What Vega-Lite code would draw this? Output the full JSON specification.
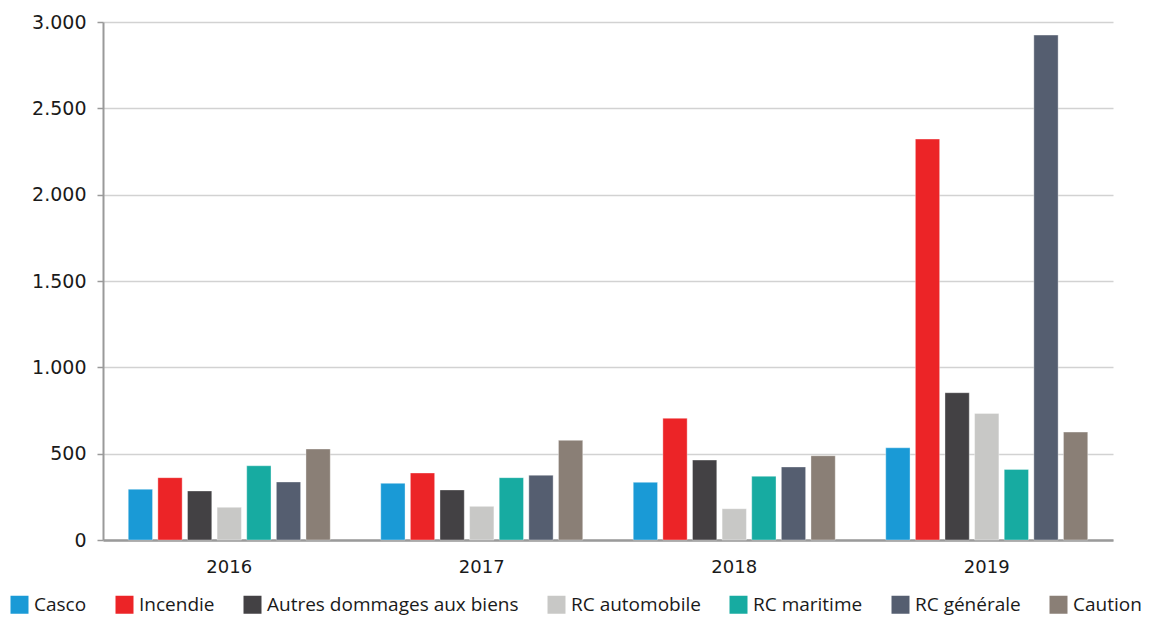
{
  "$schema": "https://vega.github.io/schema/vega-lite/v6.json",
  "width": 1010,
  "height": 518,
  "autosize": {"type": "none"},
  "padding": {"left": 103, "top": 22, "right": 39, "bottom": 77},
  "background": "white",
  "config": {
    "view": {"stroke": null},
    "locale": {"number": {"decimal": ",", "thousands": ".", "grouping": [3], "currency": ["", " €"]}},
    "font": "Open Sans"
  },
  "data": {
    "values": [
      {"year": "2016", "cat": "Casco", "value": 294},
      {"year": "2016", "cat": "Incendie", "value": 361},
      {"year": "2016", "cat": "Autres dommages aux biens", "value": 284},
      {"year": "2016", "cat": "RC automobile", "value": 189},
      {"year": "2016", "cat": "RC maritime", "value": 430},
      {"year": "2016", "cat": "RC générale", "value": 336},
      {"year": "2016", "cat": "Caution", "value": 527},
      {"year": "2017", "cat": "Casco", "value": 328},
      {"year": "2017", "cat": "Incendie", "value": 388},
      {"year": "2017", "cat": "Autres dommages aux biens", "value": 290},
      {"year": "2017", "cat": "RC automobile", "value": 195},
      {"year": "2017", "cat": "RC maritime", "value": 361},
      {"year": "2017", "cat": "RC générale", "value": 375},
      {"year": "2017", "cat": "Caution", "value": 577},
      {"year": "2018", "cat": "Casco", "value": 334},
      {"year": "2018", "cat": "Incendie", "value": 705},
      {"year": "2018", "cat": "Autres dommages aux biens", "value": 463},
      {"year": "2018", "cat": "RC automobile", "value": 181},
      {"year": "2018", "cat": "RC maritime", "value": 369},
      {"year": "2018", "cat": "RC générale", "value": 423},
      {"year": "2018", "cat": "Caution", "value": 488},
      {"year": "2019", "cat": "Casco", "value": 534},
      {"year": "2019", "cat": "Incendie", "value": 2322},
      {"year": "2019", "cat": "Autres dommages aux biens", "value": 853},
      {"year": "2019", "cat": "RC automobile", "value": 733},
      {"year": "2019", "cat": "RC maritime", "value": 409},
      {"year": "2019", "cat": "RC générale", "value": 2924},
      {"year": "2019", "cat": "Caution", "value": 625}
    ]
  },
  "mark": {"type": "bar", "stroke": "#ffffff", "strokeWidth": 0.6, "strokeOpacity": 0.6},
  "encoding": {
    "x": {
      "field": "year", "type": "nominal",
      "scale": {"paddingInner": 0.2, "paddingOuter": 0.1},
      "axis": {
        "title": null, "labelAngle": 0, "ticks": false, "labelPadding": 18,
        "labelFont": "DejaVu Sans", "labelFontSize": 18, "labelColor": "#1a1a1a",
        "domainColor": "#9a9a9a", "domainWidth": 2.5, "grid": false
      }
    },
    "xOffset": {
      "field": "cat", "type": "nominal",
      "sort": ["Casco", "Incendie", "Autres dommages aux biens", "RC automobile", "RC maritime", "RC générale", "Caution"],
      "scale": {"paddingInner": 0.18, "paddingOuter": 0}
    },
    "y": {
      "field": "value", "type": "quantitative",
      "scale": {"domain": [0, 3000], "nice": false},
      "axis": {
        "title": null, "values": [0, 500, 1000, 1500, 2000, 2500, 3000], "format": ",d",
        "labelFont": "DejaVu Sans", "labelFontSize": 19, "labelColor": "#1a1a1a", "labelPadding": 11,
        "tickSize": 6, "tickColor": "#9a9a9a", "tickWidth": 1.5,
        "domainColor": "#9a9a9a", "domainWidth": 2,
        "grid": true, "gridColor": "#d2d2d2", "gridWidth": 1.3
      }
    },
    "color": {
      "field": "cat", "type": "nominal",
      "scale": {
        "domain": ["Casco", "Incendie", "Autres dommages aux biens", "RC automobile", "RC maritime", "RC générale", "Caution"],
        "range": ["#1a9ad6", "#ec2427", "#434144", "#c8c8c6", "#17aba1", "#555e70", "#8a7f76"]
      },
      "legend": {
        "title": null, "orient": "none", "direction": "horizontal",
        "legendX": -93, "legendY": 573,
        "symbolType": "square", "symbolSize": 324, "symbolStrokeWidth": 0, "symbolOpacity": 1,
        "labelFont": "Open Sans", "labelFontSize": 19, "labelColor": "#1a1a1a", "labelOffset": 5,
        "columnPadding": 28, "labelLimit": 400
      }
    }
  }
}
